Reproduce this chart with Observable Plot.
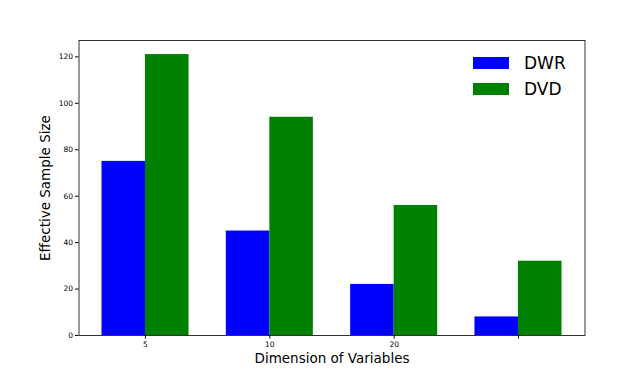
<!DOCTYPE html>
<html><head><meta charset="utf-8">
<script src="https://cdn.jsdelivr.net/npm/d3@7"></script>
<script src="https://cdn.jsdelivr.net/npm/@observablehq/plot@0.6"></script>
<style>
body{margin:0;background:#fff;font-family:"DejaVu Sans",sans-serif;}
#wrap{position:relative;width:642px;height:386px;}
.lg-patch{position:absolute;width:36px;height:12px;}
.lg-text{position:absolute;font-family:"DejaVu Sans",sans-serif;font-size:17px;line-height:17px;color:#000;white-space:nowrap;}
</style></head><body><div id="wrap"></div>
<script>
const categories = ["5", "10", "20", ""];
const seriesNames = ["DWR", "DVD"];
const dwr = [75, 45, 22, 8];
const dvd = [121, 94, 56, 32];
const colors = ["#0000ff", "#008000"];
const yTicks = [0, 20, 40, 60, 80, 100, 120];
const barWidth = 0.35;

const rows = [];
categories.forEach((c, i) => {
  rows.push({i, series: "DWR", value: dwr[i], x1: i - barWidth, x2: i});
  rows.push({i, series: "DVD", value: dvd[i], x1: i, x2: i + barWidth});
});

const chart = Plot.plot({
  width: 642, height: 386,
  marginLeft: 78.5, marginRight: 57.5, marginTop: 40, marginBottom: 51,
  style: {fontFamily: "DejaVu Sans", fontSize: "7.5px", color: "#000", background: "#fff"},
  x: {type: "linear", domain: [-0.535, 3.535]},
  y: {domain: [0, 127.05]},
  color: {domain: seriesNames, range: colors},
  marks: [
    Plot.rectY(rows, {x1: "x1", x2: "x2", y1: 0, y2: "value", fill: "series"}),
    Plot.frame({stroke: "#000", strokeWidth: 0.8}),
    Plot.axisX(categories.map((c, i) => i), {tickFormat: i => categories[i], tickSize: 3.5, tickPadding: 3, label: null, fontSize: 7.5}),
    Plot.axisY(yTicks, {tickSize: 3.5, tickPadding: 2.5, label: null, fontSize: 7.5}),
    Plot.text(["Dimension of Variables"], {frameAnchor: "bottom", dy: 27, fontSize: 13.5, fill: "#000", textAnchor: "middle"}),
    Plot.text(["Effective Sample Size"], {frameAnchor: "left", dx: -33.5, rotate: -90, fontSize: 13.5, fill: "#000", textAnchor: "middle"})
  ]
});
const wrap = document.getElementById("wrap");
wrap.appendChild(chart);

seriesNames.forEach((name, k) => {
  const p = document.createElement("div");
  p.className = "lg-patch";
  p.style.left = "473px";
  p.style.top = (57 + 26 * k) + "px";
  p.style.background = colors[k];
  wrap.appendChild(p);
  const t = document.createElement("div");
  t.className = "lg-text";
  t.style.left = "524px";
  t.style.top = (54.6 + 26 * k) + "px";
  t.textContent = name;
  wrap.appendChild(t);
});
</script>
</body></html>
